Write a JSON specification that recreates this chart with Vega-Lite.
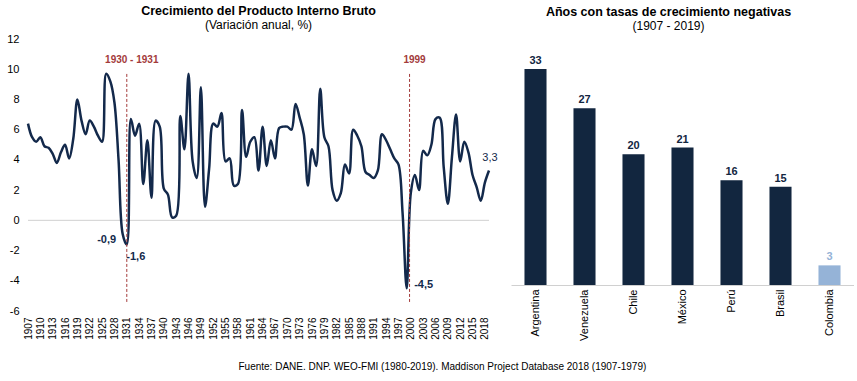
{
  "$schema": "https://vega.github.io/schema/vega-lite/v6.json",
  "padding": {"left": 6, "top": 4, "right": 0, "bottom": 0},
  "background": "white",
  "config": {
    "font": "Liberation Sans",
    "view": {"stroke": null},
    "axis": {"labelOverlap": false},
    "title": {"font": "Liberation Sans", "subtitleFont": "Liberation Sans"}
  },
  "datasets": {
    "pib": [
      {"year": 1907, "value": 6.4}, {"year": 1908, "value": 5.5}, {"year": 1909, "value": 5.2}, {"year": 1910, "value": 5.5},
      {"year": 1911, "value": 4.9}, {"year": 1912, "value": 4.8}, {"year": 1913, "value": 4.4}, {"year": 1914, "value": 3.8},
      {"year": 1915, "value": 4.5}, {"year": 1916, "value": 5.0}, {"year": 1917, "value": 4.1}, {"year": 1918, "value": 5.4},
      {"year": 1919, "value": 8.0}, {"year": 1920, "value": 6.6}, {"year": 1921, "value": 5.7}, {"year": 1922, "value": 6.6},
      {"year": 1923, "value": 6.2}, {"year": 1924, "value": 5.6}, {"year": 1925, "value": 5.2}, {"year": 1926, "value": 9.7},
      {"year": 1927, "value": 9.2}, {"year": 1928, "value": 7.8}, {"year": 1929, "value": 4.0}, {"year": 1930, "value": -0.9},
      {"year": 1931, "value": -1.6}, {"year": 1932, "value": 6.7}, {"year": 1933, "value": 5.6}, {"year": 1934, "value": 6.4},
      {"year": 1935, "value": 2.4}, {"year": 1936, "value": 5.3}, {"year": 1937, "value": 1.5}, {"year": 1938, "value": 6.6},
      {"year": 1939, "value": 6.2}, {"year": 1940, "value": 2.1}, {"year": 1941, "value": 1.7}, {"year": 1942, "value": 0.2},
      {"year": 1943, "value": 0.3}, {"year": 1944, "value": 6.9}, {"year": 1945, "value": 4.7}, {"year": 1946, "value": 9.7},
      {"year": 1947, "value": 3.9}, {"year": 1948, "value": 2.8}, {"year": 1949, "value": 8.8}, {"year": 1950, "value": 0.9},
      {"year": 1951, "value": 3.4}, {"year": 1952, "value": 6.4}, {"year": 1953, "value": 6.2}, {"year": 1954, "value": 7.1},
      {"year": 1955, "value": 3.9}, {"year": 1956, "value": 4.1}, {"year": 1957, "value": 2.3}, {"year": 1958, "value": 2.4},
      {"year": 1959, "value": 7.3}, {"year": 1960, "value": 4.2}, {"year": 1961, "value": 5.2}, {"year": 1962, "value": 5.5},
      {"year": 1963, "value": 3.3}, {"year": 1964, "value": 6.2}, {"year": 1965, "value": 3.6}, {"year": 1966, "value": 5.3},
      {"year": 1967, "value": 4.1}, {"year": 1968, "value": 6.1}, {"year": 1969, "value": 6.2}, {"year": 1970, "value": 6.2},
      {"year": 1971, "value": 6.0}, {"year": 1972, "value": 7.7}, {"year": 1973, "value": 6.8}, {"year": 1974, "value": 5.7},
      {"year": 1975, "value": 2.3}, {"year": 1976, "value": 4.7}, {"year": 1977, "value": 3.6}, {"year": 1978, "value": 8.7},
      {"year": 1979, "value": 5.5}, {"year": 1980, "value": 4.9}, {"year": 1981, "value": 2.0}, {"year": 1982, "value": 1.3},
      {"year": 1983, "value": 1.8}, {"year": 1984, "value": 3.7}, {"year": 1985, "value": 3.1}, {"year": 1986, "value": 6.0},
      {"year": 1987, "value": 5.6}, {"year": 1988, "value": 4.9}, {"year": 1989, "value": 3.2}, {"year": 1990, "value": 3.0},
      {"year": 1991, "value": 2.8}, {"year": 1992, "value": 3.3}, {"year": 1993, "value": 5.7}, {"year": 1994, "value": 5.3},
      {"year": 1995, "value": 4.7}, {"year": 1996, "value": 4.1}, {"year": 1997, "value": 3.7}, {"year": 1998, "value": 0.5},
      {"year": 1999, "value": -4.5}, {"year": 2000, "value": 1.8}, {"year": 2001, "value": 3.0}, {"year": 2002, "value": 2.0},
      {"year": 2003, "value": 4.6}, {"year": 2004, "value": 4.3}, {"year": 2005, "value": 5.0}, {"year": 2006, "value": 6.7},
      {"year": 2007, "value": 6.8}, {"year": 2008, "value": 3.5}, {"year": 2009, "value": 1.1}, {"year": 2010, "value": 4.2},
      {"year": 2011, "value": 7.0}, {"year": 2012, "value": 3.9}, {"year": 2013, "value": 5.2}, {"year": 2014, "value": 4.5},
      {"year": 2015, "value": 3.0}, {"year": 2016, "value": 2.2}, {"year": 2017, "value": 1.3}, {"year": 2018, "value": 2.5},
      {"year": 2019, "value": 3.3}
    ],
    "crisis": [
      {"year": 1931, "from": -5.4, "to": 9.7, "labelY": 10.6, "label": "1930 - 1931"},
      {"year": 1999.7, "from": -5.4, "to": 9.7, "labelY": 10.6, "label": "1999"}
    ],
    "notes": [
      {"year": 1930, "value": -0.9, "text": "-0,9"},
      {"year": 1931, "value": -1.6, "text": "-1,6"},
      {"year": 1999, "value": -4.5, "text": "-4,5"},
      {"year": 2019, "value": 3.3, "text": "3,3"}
    ],
    "paises": [
      {"pais": "Argentina", "anios": 33},
      {"pais": "Venezuela", "anios": 27},
      {"pais": "Chile", "anios": 20},
      {"pais": "México", "anios": 21},
      {"pais": "Perú", "anios": 16},
      {"pais": "Brasil", "anios": 15},
      {"pais": "Colombia", "anios": 3}
    ]
  },
  "title": {
    "text": "Fuente: DANE. DNP. WEO-FMI (1980-2019). Maddison Project Database 2018 (1907-1979)",
    "orient": "bottom",
    "anchor": "middle",
    "fontSize": 10,
    "fontWeight": "normal",
    "color": "#000000",
    "offset": 22,
    "dx": 12
  },
  "bounds": "flush",
  "spacing": 22,
  "hconcat": [
    {
      "width": 461,
      "height": 272,
      "title": {
        "text": "Crecimiento del Producto Interno Bruto",
        "subtitle": "(Variación anual, %)",
        "anchor": "middle",
        "frame": "group",
        "fontSize": 12.5,
        "fontWeight": "bold",
        "color": "#000000",
        "subtitleFontSize": 12,
        "subtitleColor": "#000000",
        "subtitlePadding": 3,
        "offset": 2
      },
      "layer": [
        {
          "data": {"values": [{"y": 0}]},
          "mark": {"type": "rule", "color": "#d0d0d0", "strokeWidth": 1},
          "encoding": {"y": {"field": "y", "type": "quantitative", "scale": {"domain": [-6, 12], "nice": false}, "axis": {"values": [-6,-4,-2,0,2,4,6,8,10,12], "tickCount": 100, "labelExpr": "'' + datum.value", "labelFontSize": 11, "labelColor": "#000000", "labelPadding": 9, "domain": false, "ticks": false, "grid": false, "title": null}}}
        },
        {
          "data": {"name": "pib"},
          "mark": {"type": "line", "color": "#13294B", "strokeWidth": 2.5, "interpolate": "catmull-rom"},
          "encoding": {
            "x": {
              "field": "year", "type": "quantitative",
              "scale": {"domain": [1907, 2019], "nice": false, "zero": false},
              "axis": {
                "values": [1907,1910,1913,1916,1919,1922,1925,1928,1931,1934,1937,1940,1943,1946,1949,1952,1955,1958,1961,1964,1967,1970,1973,1976,1979,1982,1985,1988,1991,1994,1997,2000,2003,2006,2009,2012,2015,2018],
                "tickCount": 200,
                "labelExpr": "'' + datum.value", "labelAngle": -90, "labelFontSize": 10, "labelColor": "#000000",
                "labelPadding": 6, "domain": false, "ticks": false, "grid": false, "title": null,
                "labelFlush": false
              }
            },
            "y": {
              "field": "value", "type": "quantitative",
              "scale": {"domain": [-6, 12], "nice": false},
              "axis": {
                "values": [-6,-4,-2,0,2,4,6,8,10,12], "tickCount": 100, "labelExpr": "'' + datum.value", "labelFontSize": 11, "labelColor": "#000000",
                "labelPadding": 9, "domain": false, "ticks": false, "grid": false, "title": null
              }
            }
          }
        },
        {
          "data": {"name": "crisis"},
          "mark": {"type": "rule", "color": "#A33B3B", "strokeWidth": 1, "strokeDash": [3, 2]},
          "encoding": {
            "x": {"field": "year", "type": "quantitative"},
            "y": {"field": "from", "type": "quantitative"},
            "y2": {"field": "to"}
          }
        },
        {
          "data": {"name": "crisis"},
          "mark": {"type": "text", "color": "#A33B3B", "fontWeight": "bold", "fontSize": 10, "dx": 5},
          "encoding": {
            "x": {"field": "year", "type": "quantitative"},
            "y": {"field": "labelY", "type": "quantitative"},
            "text": {"field": "label"}
          }
        },
        {
          "data": {"name": "notes"},
          "transform": [{"filter": "datum.text === '-0,9'"}],
          "mark": {"type": "text", "color": "#13294B", "fontWeight": "bold", "fontSize": 11, "dx": -16, "dy": 6},
          "encoding": {"x": {"field": "year", "type": "quantitative"}, "y": {"field": "value", "type": "quantitative"}, "text": {"field": "text"}}
        },
        {
          "data": {"name": "notes"},
          "transform": [{"filter": "datum.text === '-1,6'"}],
          "mark": {"type": "text", "color": "#13294B", "fontWeight": "bold", "fontSize": 11, "dx": 9, "dy": 12},
          "encoding": {"x": {"field": "year", "type": "quantitative"}, "y": {"field": "value", "type": "quantitative"}, "text": {"field": "text"}}
        },
        {
          "data": {"name": "notes"},
          "transform": [{"filter": "datum.text === '-4,5'"}],
          "mark": {"type": "text", "color": "#13294B", "fontWeight": "bold", "fontSize": 11, "dx": 17, "dy": -3},
          "encoding": {"x": {"field": "year", "type": "quantitative"}, "y": {"field": "value", "type": "quantitative"}, "text": {"field": "text"}}
        },
        {
          "data": {"name": "notes"},
          "transform": [{"filter": "datum.text === '3,3'"}],
          "mark": {"type": "text", "color": "#13294B", "fontWeight": "normal", "fontSize": 11, "dx": 1, "dy": -12},
          "encoding": {"x": {"field": "year", "type": "quantitative"}, "y": {"field": "value", "type": "quantitative"}, "text": {"field": "text"}}
        }
      ]
    },
    {
      "width": 343,
      "height": 246,
      "data": {"name": "paises"},
      "title": {
        "text": "Años con tasas de crecimiento negativas",
        "subtitle": "(1907 - 2019)",
        "anchor": "middle",
        "frame": "group",
        "fontSize": 12.5,
        "fontWeight": "bold",
        "color": "#000000",
        "subtitleFontSize": 12,
        "subtitleColor": "#000000",
        "subtitlePadding": 3,
        "offset": 7,
        "dx": -14
      },
      "encoding": {
        "x": {
          "field": "pais", "type": "nominal", "sort": null,
          "scale": {"paddingInner": 0.55, "paddingOuter": 0.275},
          "axis": {
            "labelAngle": -90, "labelFontSize": 11, "labelColor": "#000000", "labelPadding": 4,
            "ticks": false, "domain": true, "domainColor": "#d0d0d0", "title": null, "grid": false
          }
        },
        "y": {
          "field": "anios", "type": "quantitative",
          "scale": {"domain": [0, 37.6], "nice": false},
          "axis": null
        },
        "color": {
          "condition": {"test": "datum.pais === 'Colombia'", "value": "#95B3D7"},
          "value": "#12263F"
        }
      },
      "layer": [
        {"mark": {"type": "bar"}},
        {
          "mark": {"type": "text", "fontWeight": "bold", "fontSize": 11, "dy": -8},
          "encoding": {"text": {"field": "anios", "type": "quantitative"}}
        }
      ]
    }
  ]
}
